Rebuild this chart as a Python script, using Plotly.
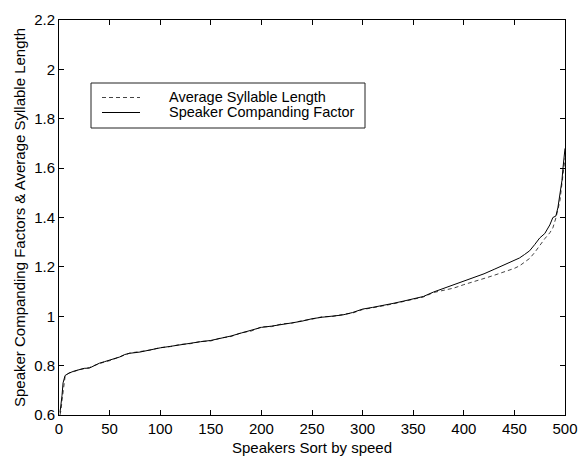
import plotly.graph_objects as go

# Speaker index (sorted by speaking rate)
speaker_idx = [1, 2, 3, 4, 5, 6, 8, 10, 15, 20, 25, 30, 35, 40, 45, 50, 55, 60, 65, 70,
               80, 90, 100, 110, 120, 130, 140, 150, 160, 170, 180, 190, 200, 210, 220,
               230, 240, 250, 260, 270, 280, 290, 300, 310, 320, 330, 340, 350, 360, 370,
               380, 390, 400, 410, 420, 430, 440, 450, 455, 460, 465, 470, 475, 480, 485,
               488, 491, 493, 495, 497, 498, 499, 500]

# Average syllable length (normalised)
avg_syllable = [0.600, 0.620, 0.660, 0.700, 0.740, 0.755, 0.765, 0.770, 0.776, 0.784,
                0.788, 0.792, 0.801, 0.809, 0.815, 0.820, 0.828, 0.834, 0.843, 0.851,
                0.857, 0.863, 0.873, 0.877, 0.886, 0.889, 0.898, 0.900, 0.912, 0.918,
                0.933, 0.940, 0.957, 0.958, 0.969, 0.972, 0.982, 0.988, 0.998, 0.999,
                1.007, 1.013, 1.027, 1.033, 1.042, 1.050, 1.060, 1.068, 1.078, 1.096,
                1.106, 1.114, 1.128, 1.139, 1.153, 1.166, 1.179, 1.194, 1.204, 1.219,
                1.234, 1.258, 1.288, 1.314, 1.338, 1.358, 1.398, 1.438, 1.468, 1.538,
                1.578, 1.618, 1.640]

# Speaker companding factor
companding = [0.610, 0.640, 0.680, 0.730, 0.752, 0.760, 0.765, 0.770, 0.778, 0.783,
              0.789, 0.790, 0.800, 0.810, 0.816, 0.822, 0.826, 0.835, 0.845, 0.850,
              0.855, 0.864, 0.872, 0.878, 0.885, 0.890, 0.897, 0.902, 0.910, 0.920,
              0.932, 0.942, 0.955, 0.960, 0.968, 0.973, 0.980, 0.990, 0.996, 1.000,
              1.005, 1.015, 1.029, 1.036, 1.043, 1.052, 1.061, 1.070, 1.080, 1.098,
              1.113, 1.125, 1.140, 1.155, 1.172, 1.190, 1.208, 1.225, 1.236, 1.250,
              1.265, 1.290, 1.317, 1.335, 1.370, 1.400, 1.406, 1.440, 1.490, 1.550,
              1.600, 1.640, 1.680]

x_ticks = [0, 50, 100, 150, 200, 250, 300, 350, 400, 450, 500]
y_ticks = [0.6, 0.8, 1.0, 1.2, 1.4, 1.6, 1.8, 2.0, 2.2]
y_tick_text = ["0.6", "0.8", "1", "1.2", "1.4", "1.6", "1.8", "2", "2.2"]

legend_labels = ["Average Syllable Length", "Speaker Companding Factor"]

FONT = "Liberation Sans, Arial, sans-serif"
W, H = 580, 458
ML, MR, MT, MB = 59, 15, 20, 43


def px_x(px):
    return (px - ML) / (W - ML - MR)


def px_y(py):
    return (H - MB - py) / (H - MT - MB)


fig = go.Figure()
fig.add_trace(go.Scatter(x=speaker_idx, y=avg_syllable, mode="lines",
                         line=dict(color="#444444", width=1, dash="4px,3px"),
                         name=legend_labels[0], showlegend=False))
fig.add_trace(go.Scatter(x=speaker_idx, y=companding, mode="lines",
                         line=dict(color="#000000", width=1),
                         name=legend_labels[1], showlegend=False))

# Legend box drawn by hand
row_y = [96.5, 111.5]
shapes = [
    dict(type="rect", xref="paper", yref="paper",
         x0=px_x(91), x1=px_x(365), y0=px_y(128), y1=px_y(83),
         line=dict(color="#222222", width=1), fillcolor="white", layer="above"),
    dict(type="line", xref="paper", yref="paper",
         x0=px_x(102), x1=px_x(140), y0=px_y(row_y[0] + 1), y1=px_y(row_y[0] + 1),
         line=dict(color="#444444", width=1, dash="4px,3px")),
    dict(type="line", xref="paper", yref="paper",
         x0=px_x(102), x1=px_x(140), y0=px_y(row_y[1] + 1), y1=px_y(row_y[1] + 1),
         line=dict(color="#000000", width=1)),
]
annotations = [
    dict(xref="paper", yref="paper", x=px_x(167), y=px_y(ry), text=label,
         showarrow=False, xanchor="left", yanchor="middle",
         font=dict(family=FONT, size=14.5, color="black"))
    for label, ry in zip(legend_labels, row_y)
]

axis_common = dict(showline=True, linecolor="black", linewidth=1, mirror="allticks",
                   ticks="inside", ticklen=5, tickcolor="black", showgrid=False,
                   zeroline=False, automargin=False,
                   tickfont=dict(family=FONT, size=15, color="black"))

fig.update_layout(
    width=W, height=H,
    margin=dict(l=ML, r=MR, t=MT, b=MB),
    paper_bgcolor="white", plot_bgcolor="white",
    shapes=shapes, annotations=annotations,
    xaxis=dict(range=[0, 500], tickvals=x_ticks,
               title=dict(text="Speakers Sort by speed", standoff=6,
                          font=dict(family=FONT, size=15, color="black")),
               **axis_common),
    yaxis=dict(range=[0.6, 2.2], tickvals=y_ticks, ticktext=y_tick_text,
               title=dict(text="Speaker Companding Factors & Average Syllable Length",
                          standoff=4, font=dict(family=FONT, size=15, color="black")),
               **axis_common),
)

fig.write_html("out.html")
